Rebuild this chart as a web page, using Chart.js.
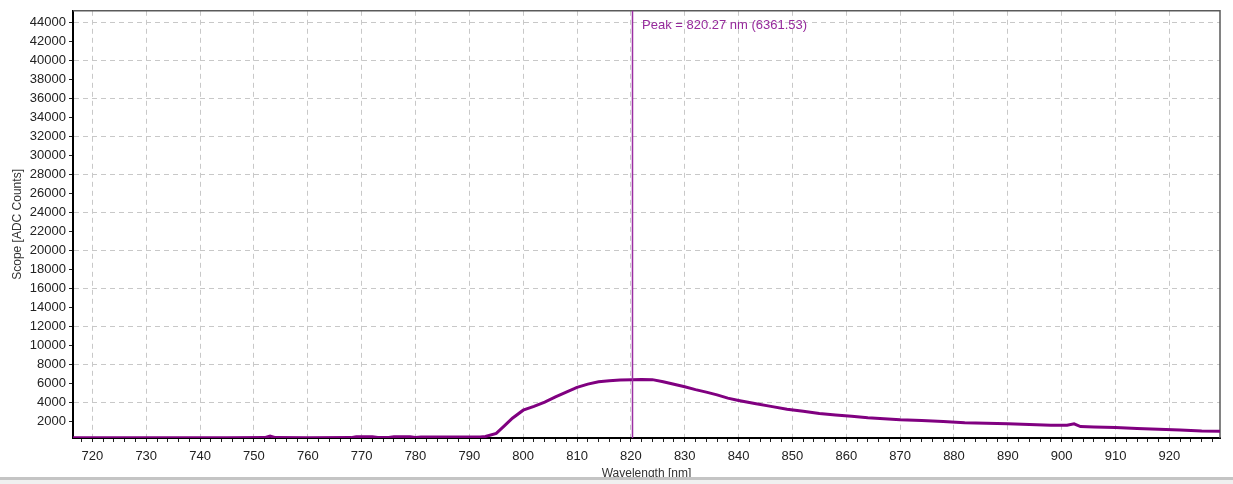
<!DOCTYPE html>
<html>
<head>
<meta charset="utf-8">
<script src="https://cdn.jsdelivr.net/npm/chart.js@4.4.1/dist/chart.umd.min.js"></script>
<style>
    html, body { margin: 0; padding: 0; background: #fff; }
    #wrap { position: relative; width: 1233px; height: 484px; }
    #bar { position: absolute; left: 0; top: 477px; width: 1233px; height: 3px; background: #c4c4c4; }
    #bar2 { position: absolute; left: 0; top: 480px; width: 1233px; height: 4px; background: #f0f0f0; }
</style>
</head>
<body>
<div id="wrap">
    <canvas id="scopeChart" width="1233" height="484"></canvas>
    <div id="bar"></div>
    <div id="bar2"></div>
</div>
<script>
// spectrum
var wavelengths = [716.4, 730, 745, 752, 753, 754, 760, 768, 769, 772, 773, 775, 776, 779, 780, 781, 792, 793,
    795, 796.5, 798, 800, 802, 804, 806, 808, 810, 812, 814, 816, 818, 820.27, 822, 824, 826, 828, 830,
    832, 834, 836, 838, 840, 843, 846, 849, 852, 855, 858, 861, 864, 867, 870, 874, 878, 882, 886, 890,
    894, 898, 901, 902.3, 903.5, 906, 910, 914, 918, 922, 926, 929.4];
var counts = [250, 250, 250, 260, 420, 260, 250, 260, 360, 360, 270, 270, 350, 350, 270, 330, 330, 380,
    700, 1500, 2300, 3150, 3550, 4000, 4550, 5050, 5550, 5900, 6150, 6260, 6330, 6361.53, 6380, 6370, 6150, 5880, 5620,
    5320, 5050, 4760, 4420, 4180, 3850, 3550, 3250, 3030, 2810, 2650, 2500, 2350, 2250, 2150, 2070, 1960, 1830, 1770, 1710,
    1640, 1570, 1560, 1720, 1420, 1390, 1330, 1220, 1140, 1060, 960, 920];

var xMajorTicks = [720, 730, 740, 750, 760, 770, 780, 790, 800, 810, 820, 830, 840, 850, 860, 870, 880, 890, 900, 910, 920];
var yTickLabels = [2000, 4000, 6000, 8000, 10000, 12000, 14000, 16000, 18000, 20000, 22000, 24000, 26000, 28000,
    30000, 32000, 34000, 36000, 38000, 40000, 42000, 44000];

var peakWavelength = 820.27;
var peakCounts = 6361.53;

var xMinorTicks = [];
for (var t = 718; t <= 928; t += 2) {
    xMinorTicks.push(t);
}

const peakMarker = {
    id: 'peakMarker',
    beforeDatasetsDraw(chart) {
        const ctx = chart.ctx;
        const area = chart.chartArea;
        // top / right frame
        ctx.save();
        ctx.strokeStyle = '#5a5a5a';
        ctx.lineWidth = 1.5;
        ctx.beginPath();
        ctx.moveTo(area.left, area.top);
        ctx.lineTo(area.right, area.top);
        ctx.lineTo(area.right, area.bottom);
        ctx.stroke();
        ctx.restore();
    },
    afterDatasetsDraw(chart) {
        const ctx = chart.ctx;
        const area = chart.chartArea;
        const px = Math.round(chart.scales.x.getPixelForValue(peakWavelength)) + 0.5;
        ctx.save();
        ctx.strokeStyle = '#9c2fa3';
        ctx.lineWidth = 1.5;
        ctx.beginPath();
        ctx.moveTo(px, area.top);
        ctx.lineTo(px, area.bottom);
        ctx.stroke();
        ctx.fillStyle = '#962a9c';
        ctx.font = '13px "Liberation Sans", Arial, sans-serif';
        ctx.textBaseline = 'middle';
        ctx.fillText('Peak = ' + peakWavelength.toFixed(2) + ' nm (' + peakCounts.toFixed(2) + ')', px + 9.5, area.top + 15);
        ctx.restore();
    }
};

var points = wavelengths.map(function(w, i) {
    return { x: w, y: counts[i] };
});

var scope_chart = new Chart(document.getElementById('scopeChart').getContext('2d'), {
    type: 'line',
    data: {
        datasets: [{
            label: 'Scope',
            data: points,
            borderColor: '#800080',
            borderWidth: 3,
            pointRadius: 0,
            fill: false,
            tension: 0
        }]
    },
    options: {
        responsive: false,
        animation: false,
        layout: {
            padding: { left: 0, right: 13, top: 7, bottom: 0 }
        },
        plugins: {
            legend: { display: false },
            tooltip: { enabled: false }
        },
        scales: {
            x: {
                type: 'linear',
                min: 716.4,
                max: 929.4,
                afterBuildTicks: function(scale) {
                    scale.ticks = xMinorTicks.map(function(v) { return { value: v }; });
                },
                afterFit: function(scale) {
                    scale.height = 46;
                },
                ticks: {
                    autoSkip: false,
                    maxRotation: 0,
                    padding: 7,
                    color: '#222',
                    font: { family: '"Liberation Sans", Arial, sans-serif', size: 13 },
                    callback: function(value) {
                        return xMajorTicks.indexOf(value) >= 0 ? String(value) : '';
                    }
                },
                grid: {
                    color: function(ctx) {
                        return ctx.tick && xMajorTicks.indexOf(ctx.tick.value) >= 0 ? '#c8c8c8' : 'rgba(0,0,0,0)';
                    },
                    tickColor: '#222',
                    tickLength: 4,
                    lineWidth: 1
                },
                border: {
                    color: '#000',
                    width: 2,
                    dash: [5, 4]
                },
                title: {
                    display: true,
                    text: 'Wavelength [nm]',
                    color: '#333',
                    padding: { top: 0, bottom: 3 },
                    font: { family: '"Liberation Sans", Arial, sans-serif', size: 12 }
                }
            },
            y: {
                type: 'linear',
                min: 220,
                max: 45230,
                afterBuildTicks: function(scale) {
                    scale.ticks = yTickLabels.map(function(v) { return { value: v }; });
                },
                afterFit: function(scale) {
                    scale.width = 73;
                },
                ticks: {
                    autoSkip: false,
                    padding: 3,
                    color: '#222',
                    font: { family: '"Liberation Sans", Arial, sans-serif', size: 13 },
                    callback: function(value) {
                        return String(value);
                    }
                },
                grid: {
                    color: function(ctx) {
                        return ctx.tick && ctx.tick.value % 4000 === 0 ? '#c8c8c8' : 'rgba(0,0,0,0)';
                    },
                    tickColor: '#222',
                    tickLength: 4,
                    lineWidth: 1
                },
                border: {
                    color: '#000',
                    width: 2,
                    dash: [5, 4]
                },
                title: {
                    display: true,
                    text: 'Scope [ADC Counts]',
                    color: '#333',
                    padding: { top: 10, bottom: 0 },
                    font: { family: '"Liberation Sans", Arial, sans-serif', size: 12 }
                }
            }
        }
    },
    plugins: [peakMarker]
});
</script>
</body>
</html>
